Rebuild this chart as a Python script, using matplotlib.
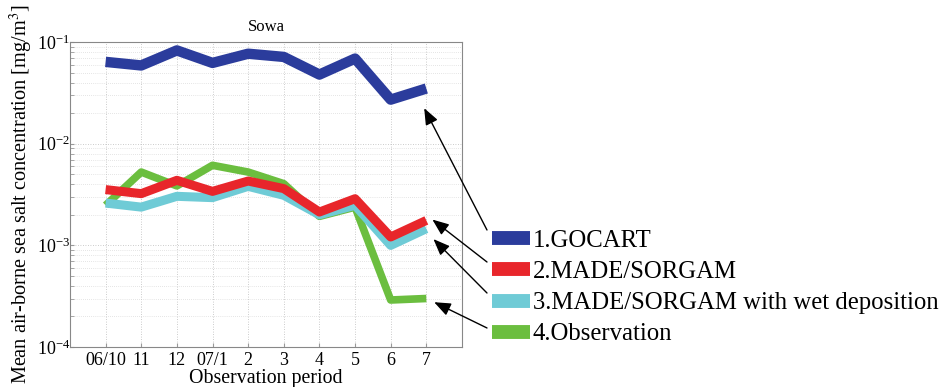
import matplotlib
matplotlib.use("Agg")
import matplotlib.pyplot as plt
from matplotlib.ticker import LogLocator, NullFormatter

plt.rcParams['font.family'] = ['Liberation Serif', 'DejaVu Serif']
plt.rcParams['mathtext.fontset'] = 'stix'

periods = ["06/10", "11", "12", "07/1", "2", "3", "4", "5", "6", "7"]
gocart = [0.064, 0.059, 0.083, 0.0625, 0.077, 0.0716, 0.048, 0.069, 0.0272, 0.035]
made = [0.00354, 0.00323, 0.00437, 0.0034, 0.0043, 0.00362, 0.00213, 0.00288, 0.00121, 0.00176]
made_wet = [0.00261, 0.00238, 0.00304, 0.00295, 0.00381, 0.00311, 0.0020, 0.00248, 0.0010, 0.00146]
observation = [0.00248, 0.00527, 0.00385, 0.00614, 0.00527, 0.00405, 0.00193, 0.00238, 0.00029, 0.0003]

labels = ["1.GOCART", "2.MADE/SORGAM", "3.MADE/SORGAM with wet deposition", "4.Observation"]
colors = ["#2B3C9C", "#E8262B", "#6FCBD6", "#6BBE3F"]

fig = plt.figure(figsize=(9.48, 3.87), dpi=100)
ax = fig.add_axes([0.0738, 0.1034, 0.4135, 0.7876])

x = list(range(1, len(periods) + 1))
series = [gocart, made, made_wet, observation]
zorders = [5, 4, 3, 2]
lws = [7.5, 6.5, 6.5, 5.5]
handles = []
for s, c, z, lw, lab in zip(series, colors, zorders, lws, labels):
    h, = ax.plot(x, s, color=c, lw=lw, zorder=z, label=lab, solid_capstyle='butt')
    handles.append(h)

ax.set_yscale('log')
ax.set_ylim(1e-4, 1e-1)
ax.set_xlim(0, len(periods) + 1)
ax.set_xticks(x)
ax.set_xticklabels(periods, fontsize=13)
ax.yaxis.set_major_locator(LogLocator(base=10))
ax.yaxis.set_minor_locator(LogLocator(base=10, subs=range(2, 10)))
ax.yaxis.set_minor_formatter(NullFormatter())
ax.tick_params(axis='y', labelsize=13, pad=0)
ax.tick_params(axis='both', which='both', direction='in', length=3, color='#999999')
ax.tick_params(axis='x', which='minor', length=0)
ax.grid(True, which='major', axis='both', linestyle=(0, (1, 2)), color='#bbbbbb', lw=0.6)
ax.grid(True, which='minor', axis='y', linestyle=(0, (1, 2)), color='#cccccc', lw=0.5)
for sp in ax.spines.values():
    sp.set_color('#888888')
    sp.set_linewidth(0.8)

ax.set_title("Sowa", fontsize=12, pad=8)
ax.set_xlabel("Observation period", fontsize=14.3, labelpad=0)
ax.set_ylabel("Mean air-borne sea salt concentration [mg/m$^3$]", fontsize=14.6, labelpad=1)

leg = fig.legend(handles=handles, labels=labels, loc='upper left',
                 bbox_to_anchor=(0.519, 0.407), frameon=False, fontsize=17.8,
                 handlelength=1.55, handletextpad=0.1, labelspacing=0.36,
                 borderpad=0, borderaxespad=0)
for lh in leg.get_lines():
    lh.set_linewidth(10)

# arrows from legend to line ends
tips = [(9.94, gocart[-1] * 0.64), (10.17, made[-1] * 1.02),
        (10.2, made_wet[-1] * 0.79), (10.22, observation[-1] * 0.92)]
tails = [(0.5137, 0.4057), (0.5137, 0.323), (0.5137, 0.2429), (0.5137, 0.1525)]
for (tx, ty), (fx, fy) in zip(tips, tails):
    ax.annotate("", xy=(tx, ty), xycoords='data', xytext=(fx, fy), textcoords='figure fraction',
                arrowprops=dict(arrowstyle='-|>,head_length=1.0,head_width=0.4', color='black',
                                lw=1.0, shrinkA=0, shrinkB=0), annotation_clip=False)

fig.savefig("out.png", dpi=100)
